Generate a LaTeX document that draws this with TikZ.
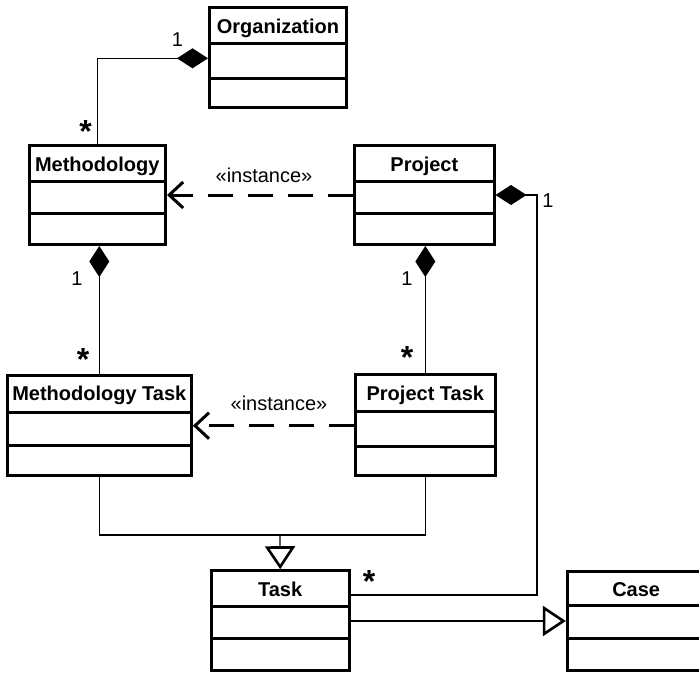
\documentclass[tikz,border=0pt]{standalone}
\usepackage{fontspec}
\setmainfont{Liberation Sans}
\usetikzlibrary{arrows.meta,fit}

\tikzset{
  classbox/.style={draw, line width=3pt, inner sep=0pt},
  classline/.style={line width=3pt},
  classname/.style={font=\bfseries\fontsize{20}{24}\selectfont, inner sep=0pt, anchor=base},
  mult/.style={font=\fontsize{20}{24}\selectfont, inner sep=0pt, anchor=base},
  many/.style={font=\bfseries\fontsize{32}{36}\selectfont, inner sep=0pt},
  stereo/.style={font=\fontsize{20}{24}\selectfont, inner sep=0pt, anchor=base},
  assoc/.style={line width=1.2pt},
  comp/.style={assoc, -{Diamond[length=31pt,width=20pt]}},
  gen/.style={assoc, -{Triangle[open,length=23pt,width=30pt,line width=2.6pt,fill=white]}},
  instance/.style={line width=3pt, dash pattern=on 25pt off 15pt,
    -{Straight Barb[length=14pt,width=26pt,line width=3pt]}},
}

% class box: name, left, top, right, bottom, divider 1, divider 2, title
\newcommand\umlclass[8]{%
  \node[classbox, fit={(#2,#3) (#4,#5)}] (#1) {};
  \draw[classline] (#2,#6) -- (#4,#6) (#2,#7) -- (#4,#7);
  \node[classname] (#1-name) at ({(#2+#4)/2},{#3+25.5}) {#8};
}

\begin{document}
\begin{tikzpicture}[x=1pt,y=-1pt]
  \useasboundingbox (0,0) rectangle (699,673);
  \clip (0,0) rectangle (699,673);

  % classes
  \umlclass{org}{209.5}{7.5}{346.5}{107.5}{43}{78}{Organization}
  \umlclass{meth}{29}{145.5}{165.5}{244.5}{181.5}{213}{Methodology}
  \umlclass{proj}{354.7}{145.5}{494}{244.5}{181.5}{213}{Project}
  \umlclass{mt}{7.3}{375.3}{191.3}{475.7}{412}{445.3}{Methodology Task}
  \umlclass{pt}{355.7}{374.7}{495}{475.7}{411.3}{446.3}{Project Task}
  \umlclass{task}{211.3}{570.7}{349}{670.7}{606.3}{638}{Task}
  \umlclass{case}{567.3}{571.3}{705}{670.7}{605.7}{638.7}{Case}

  % helper points for routed connectors
  \coordinate (pbend) at (537,195);
  \coordinate (gj) at (280,535);

  % compositions
  \draw[comp] (meth.north) |- (org.west |- 0,58.3);
  \draw[comp] (mt.north) -- (mt.north |- meth.south);
  \draw[comp] (pt.north) -- (pt.north |- proj.south);
  \draw[comp] (task.east |- 0,595) -| (pbend) -- (proj.east |- pbend);

  % instance dependencies
  \draw[instance] (proj.west |- 0,195) -- (meth.east |- 0,195);
  \draw[instance] (pt.west |- 0,425.7) -- (mt.east |- 0,425.7);

  % generalizations
  \draw[assoc] (mt.south) |- (gj) -| (pt.south);
  \draw[gen] (gj) -- (task.north);
  \draw[gen] (task.east |- 0,621) -- (case.west |- 0,621);

  % stereotypes
  \node[stereo] (inst1) at (264,182) {«instance»};
  \node[stereo] (inst2) at (279,410) {«instance»};

  % multiplicities
  \node[mult] (m1) at (177.5,46.7) {1};
  \node[mult] (m2) at (77,285) {1};
  \node[mult] (m3) at (407,285) {1};
  \node[mult] (m4) at (548,207) {1};
  \node[many] (s1) at (85.5,131) {*};
  \node[many] (s2) at (83,359) {*};
  \node[many] (s3) at (407,357) {*};
  \node[many] (s4) at (369,581) {*};
\end{tikzpicture}
\end{document}
